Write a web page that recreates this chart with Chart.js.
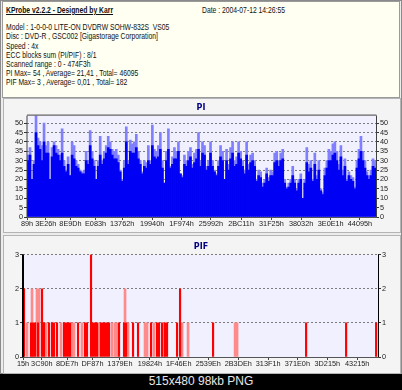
<!DOCTYPE html>
<html>
<head>
<meta charset="utf-8">
<script src="https://cdn.jsdelivr.net/npm/chart.js@4.4.0/dist/chart.umd.min.js"></script>
<style>
  body { margin: 0; width: 402px; height: 390px; background: #000; overflow: hidden; font-family: "Liberation Sans", Arial, sans-serif; }
  #page { position: absolute; left: 0; top: 0; width: 400px; height: 372px; background: #ececec; border: 1px solid #8a8a8a; }
  #info { position: absolute; left: 1px; top: 0; width: 396px; height: 95px; background: #fffff2; border: 1px solid #9a9a9a; font-size: 8.4px; color: #111; }
  .ln { position: absolute; left: 3px; white-space: nowrap; transform: scaleX(0.81); transform-origin: 0 0; }
  .panel { position: absolute; left: 2px; width: 396px; background: #f4f4f4; border: 1px solid #b4b4b4; }
  canvas { position: absolute; left: 0; }
  #foot { position: absolute; left: 0; top: 373px; width: 402px; height: 17px; color: #e6e6e6; font-size: 12px; text-align: center; line-height: 17px; }
</style>
</head>
<body>
<div id="page">
  <div id="info">
    <div class="ln" style="top:3px;font-weight:bold;text-decoration:underline">KProbe v2.2.2 - Designed by Karr</div>
    <div class="ln" style="top:3px;left:199px">Date : 2004-07-12 14:26:55</div>
    <div class="ln" style="top:20px">Model : 1-0-0-0 LITE-ON DVDRW SOHW-832S&nbsp; VS05</div>
    <div class="ln" style="top:29px">Disc : DVD-R , GSC002 [Gigastorage Corporation]</div>
    <div class="ln" style="top:38.5px">Speed : 4x</div>
    <div class="ln" style="top:47.5px">ECC blocks sum (PI/PIF) : 8/1</div>
    <div class="ln" style="top:56.5px">Scanned range : 0 - 474F3h</div>
    <div class="ln" style="top:66px">PI Max= 54 , Average= 21,41 , Total= 46095</div>
    <div class="ln" style="top:75px">PIF Max= 3 , Average= 0,01 , Total= 182</div>
  </div>
  <div class="panel" style="top:97px;height:133px"></div>
  <div class="panel" style="top:234px;height:137px"></div>
</div>
<canvas id="piChart" width="402" height="132" style="top:98px"></canvas>
<canvas id="pifChart" width="402" height="140" style="top:233px"></canvas>
<div id="foot">515x480 98kb PNG</div>

<script>
const lbaStart = 0x89;
const lbaEnd = 0x474F3;

// PI : pic (bleu clair) et fond (bleu foncé) par échantillon
const piMax = [
  33, 37, 20, 30, 54, 42, 40, 38, 50, 38,
  40, 20, 37, 40, 38, 36, 33, 47, 30, 25,
  32, 22, 40, 38, 30, 28, 25, 24, 25, 35,
  30, 46, 35, 30, 20, 30, 43, 30, 35, 38,
  43, 40, 36, 35, 36, 33, 25, 20, 30, 48,
  30, 41, 39, 40, 44, 35, 30, 24, 30, 29,
  38, 30, 49, 36, 35, 38, 45, 30, 18, 35,
  47, 27, 32, 37, 35, 40, 23, 22, 33, 30,
  35, 37, 28, 34, 36, 45, 30, 40, 38, 27,
  30, 40, 30, 25, 23, 30, 38, 35, 20, 36,
  28, 37, 40, 30, 32, 40, 35, 30, 25, 40,
  28, 33, 34, 30, 20, 25, 24, 18, 20, 26,
  21, 25, 24, 34, 35, 30, 34, 36, 20, 16,
  18, 20, 27, 20, 15, 20, 23, 10, 20, 37,
  28, 30, 20, 34, 22, 30, 15, 13, 26, 30,
  36, 35, 39, 40, 35, 28, 38, 25, 31, 20,
  24, 22, 21, 16, 30, 36, 43, 35, 30, 24,
  22, 25, 31, 30
];
const piAvg = [
  30, 33, 20, 28, 45, 38, 36, 30, 40, 34,
  34, 20, 32, 38, 34, 33, 30, 34, 27, 24,
  28, 22, 33, 31, 27, 26, 24, 23, 23, 30,
  28, 38, 31, 27, 20, 27, 33, 28, 31, 34,
  37, 36, 33, 31, 31, 29, 24, 19, 26, 40,
  28, 35, 34, 34, 37, 31, 28, 23, 27, 26,
  30, 28, 38, 32, 31, 32, 36, 26, 18, 30,
  36, 26, 28, 31, 31, 35, 23, 21, 28, 27,
  30, 32, 26, 29, 31, 36, 27, 34, 33, 25,
  27, 34, 27, 24, 22, 27, 32, 30, 20, 30,
  25, 31, 34, 27, 28, 34, 31, 27, 23, 33,
  25, 29, 30, 27, 19, 22, 21, 16, 18, 23,
  19, 22, 22, 29, 30, 27, 30, 31, 18, 15,
  16, 18, 22, 18, 14, 18, 20, 10, 18, 29,
  24, 26, 19, 28, 20, 25, 14, 12, 22, 26,
  30, 30, 33, 34, 30, 25, 32, 22, 27, 19,
  22, 20, 19, 15, 26, 31, 35, 30, 26, 22,
  20, 22, 27, 26
];
const piTicks = ['89h', '3E26h', '8E9Dh', 'E083h', '13762h', '19940h', '1F974h',
  '25992h', '2BC11h', '31F25h', '38032h', '3E0E1h', '44095h'];
const piYTicks = [0, 5, 10, 15, 20, 25, 30, 35, 40, 45, 50];

// PIF : position (LBA) et nombre d'erreurs
const pifLba = [844, 6605, 8251, 9897, 12366, 15658, 17304, 21419, 23888, 25534,
  28003, 33764, 35410, 37056, 38702, 45286, 51047, 52693, 55985, 57631,
  59277, 60923, 64215, 65861, 67507, 69153, 70799, 79029, 83144, 84790,
  90551, 94666, 105365, 110303, 111949, 114418, 116887, 118533, 126763, 129232,
  156391, 232930, 265850, 290540];
const pifErr = [2, 1, 1, 1, 1, 2, 1, 1, 1, 1,
  1, 1, 1, 1, 1, 1, 1, 1, 3, 1,
  1, 1, 1, 1, 1, 1, 1, 1, 1, 1,
  1, 1, 1, 1, 1, 1, 1, 1, 1, 2,
  1, 1, 1, 1];
// barres plus pâles
const pifLbaFaint = [3313, 7428, 11543, 13189, 18950, 31295, 40348, 41994, 48578, 62569,
  73266, 75737, 77383, 83967, 86436, 100427, 102073, 107834, 116064, 130878,
  135816, 174497, 176143];
const pifErrFaint = [1, 2, 2, 2, 1, 1, 1, 1, 1, 1,
  1, 1, 1, 2, 1, 1, 1, 1, 1, 1,
  1, 1, 1];
const pifTicks = ['15h', '3C90h', '8DE7h', 'DF87h', '1379Eh', '19824h', '1F46Eh',
  '2539Eh', '2B3DEh', '313F1h', '371E0h', '3D215h', '43215h'];
const pifYTicks = [0, 1, 2, 3];

// fond et cadre de la zone de tracé
const plotFrame = {
  id: 'plotFrame',
  beforeDraw(c, args, o) {
    const a = c.chartArea, ctx = c.ctx;
    ctx.save();
    ctx.fillStyle = o.bg;
    ctx.fillRect(a.left, a.top, a.right - a.left, a.bottom - a.top);
    ctx.restore();
  },
  afterDraw(c, args, o) {
    const a = c.chartArea, ctx = c.ctx;
    ctx.save();
    ctx.strokeStyle = o.line;
    ctx.lineWidth = o.left;
    ctx.beginPath();
    ctx.moveTo(a.left, a.bottom);
    ctx.lineTo(a.left, a.top);
    ctx.stroke();
    ctx.lineWidth = 1;
    ctx.beginPath();
    if (o.top) {
      ctx.moveTo(a.left, a.top - 0.5);
      ctx.lineTo(a.right + 0.5, a.top - 0.5);
    }
    ctx.moveTo(a.right + 0.5, a.top);
    ctx.lineTo(a.right + 0.5, a.bottom);
    ctx.stroke();
    ctx.restore();
  }
};

const tickFont = { family: 'Liberation Sans, Arial', size: 7.3 };

function yAxis(pos, max, values, width, grid) {
  return {
    position: pos, min: 0, max: max,
    afterFit: s => { s.width = width; },
    afterBuildTicks: s => { s.ticks = values.map(v => ({ value: v })); },
    ticks: { autoSkip: false, font: tickFont, color: '#222', padding: 1 },
    grid: { drawOnChartArea: grid, color: '#7c7c7c', tickColor: '#333', tickLength: 3 },
    border: { display: false, dash: [2, 2] }
  };
}

function xAxis(min, labels, height) {
  return {
    type: 'linear', min: min, max: lbaEnd, offset: false,
    afterFit: s => { s.height = height; },
    afterBuildTicks: s => { s.ticks = labels.map(h => ({ value: parseInt(h, 16) })); },
    ticks: { autoSkip: false, maxRotation: 0, font: tickFont, color: '#222', padding: 0,
      callback: (v, i) => labels[i] },
    grid: { drawOnChartArea: false, offset: false, tickColor: '#444', tickLength: 3 },
    border: { display: true, color: '#555' }
  };
}

const step = (lbaEnd - lbaStart) / piMax.length;
const piX = piMax.map((v, i) => Math.round(lbaStart + (i + 0.5) * step));

// le premier jeu de données est dessiné au-dessus
new Chart(document.getElementById('piChart'), {
  type: 'bar',
  data: {
    datasets: [
      { data: piAvg.map((v, i) => ({ x: piX[i], y: v })), backgroundColor: '#0000f4',
        barPercentage: 1, categoryPercentage: 1, grouped: false },
      { data: piMax.map((v, i) => ({ x: piX[i], y: v })), backgroundColor: '#8080ff',
        barPercentage: 1, categoryPercentage: 1, grouped: false }
    ]
  },
  options: {
    responsive: false, animation: false,
    layout: { padding: 0 },
    plugins: {
      legend: { display: false }, tooltip: { enabled: false },
      title: { display: true, text: 'PI', color: '#000080', font: { family: 'DejaVu Sans', size: 8, weight: 'bold' },
        padding: { top: 5, bottom: 3 } },
      plotFrame: { bg: '#f0f0ff', line: '#404040', left: 1, top: true }
    },
    scales: {
      x: xAxis(lbaStart, piTicks, 13),
      y: yAxis('left', 54, piYTicks, 27, true),
      y2: yAxis('right', 54, piYTicks, 26, false)
    }
  },
  plugins: [plotFrame]
});

new Chart(document.getElementById('pifChart'), {
  type: 'bar',
  data: {
    datasets: [
      { data: pifLba.map((x, i) => ({ x: x, y: pifErr[i] })), backgroundColor: '#ff0000',
        barThickness: 1.5, grouped: false },
      { data: pifLbaFaint.map((x, i) => ({ x: x, y: pifErrFaint[i] })), backgroundColor: '#ff8a8a',
        barThickness: 2, grouped: false }
    ]
  },
  options: {
    responsive: false, animation: false,
    layout: { padding: 0 },
    plugins: {
      legend: { display: false }, tooltip: { enabled: false },
      title: { display: true, text: 'PIF', color: '#000080', font: { family: 'DejaVu Sans', size: 8, weight: 'bold' },
        padding: { top: 9, bottom: 3 } },
      plotFrame: { bg: '#f0f0ff', line: '#000', left: 2, top: false }
    },
    scales: {
      x: xAxis(0x15, pifTicks, 16),
      y: yAxis('left', 3, pifYTicks, 23, true),
      y2: yAxis('right', 3, pifYTicks, 24, false)
    }
  },
  plugins: [plotFrame]
});
</script>
</body>
</html>
